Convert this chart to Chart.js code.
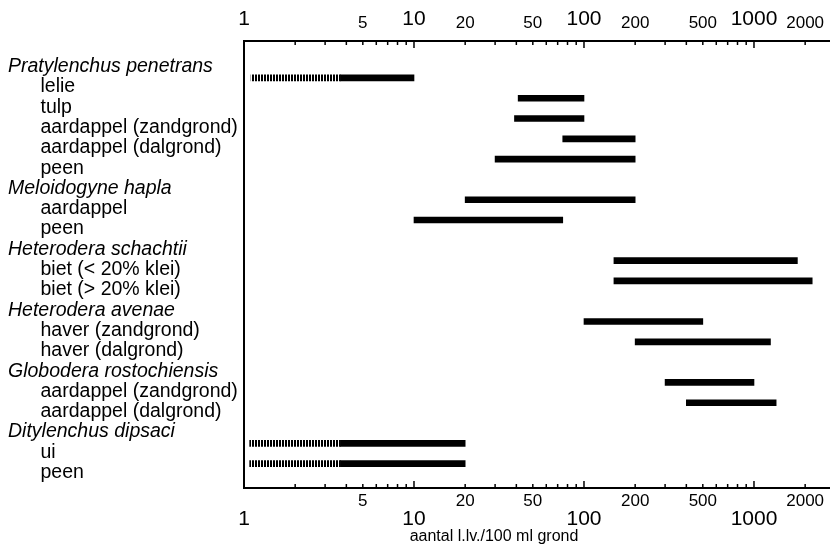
<!DOCTYPE html>
<html>
<head>
<meta charset="utf-8">
<script src="https://cdn.jsdelivr.net/npm/chart.js@4/dist/chart.umd.min.js"></script>
<style>
  body { margin: 0; background: #fff; }
  canvas { display: block; }
</style>
</head>
<body>
<canvas id="chart" width="830" height="545"></canvas>
<script>
// rows of the chart, top to bottom
let rows = [
  "Pratylenchus penetrans", "lelie", "tulp", "aardappel (zandgrond)", "aardappel (dalgrond)", "peen",
  "Meloidogyne hapla", "aardappel", "peen",
  "Heterodera schachtii", "biet (< 20% klei)", "biet (> 20% klei)",
  "Heterodera avenae", "haver (zandgrond)", "haver (dalgrond)",
  "Globodera rostochiensis", "aardappel (zandgrond)", "aardappel (dalgrond)",
  "Ditylenchus dipsaci", "ui", "peen"
];
let species = ["Pratylenchus penetrans", "Meloidogyne hapla", "Heterodera schachtii",
  "Heterodera avenae", "Globodera rostochiensis", "Ditylenchus dipsaci"];

// solid part of each range (aantal per 100 ml grond)
let lowValues  = [null, 3.7, 41, 39, 75, 30, null, 20, 10, null, 150, 150, null, 100, 200, null, 300, 400, null, 3.7, 3.7];
let highValues = [null, 10, 100, 100, 200, 200, null, 200, 75, null, 1800, 2200, null, 500, 1250, null, 1000, 1350, null, 20, 20];
// uncertain (hatched) part
let hatchLow  = [null, 1.1, null, null, null, null, null, null, null, null, null, null, null, null, null, null, null, null, null, 1.08, 1.08];
let hatchHigh = [null, 3.7, null, null, null, null, null, null, null, null, null, null, null, null, null, null, null, null, null, 3.7, 3.7];

let tickValues = [1, 2, 3, 4, 5, 6, 7, 8, 9, 10, 20, 30, 40, 50, 60, 70, 80, 90,
  100, 200, 300, 400, 500, 600, 700, 800, 900, 1000, 2000];
let majorTicks = [1, 10, 100, 1000];
let minorLabels = [5, 20, 50, 200, 500, 2000];
let xTitle = "aantal l.lv./100 ml grond";

const FONT = '"Liberation Sans", Arial, Helvetica, sans-serif';

function makeRanges(lo, hi) {
  let out = [];
  for (let i = 0; i < rows.length; i++) {
    if (lo[i] != null) out.push({ x: [lo[i], hi[i]], y: i });
  }
  return out;
}

// vertical hatch for the uncertain part
let pc = document.createElement("canvas");
pc.width = 3;
pc.height = 4;
let pctx = pc.getContext("2d");
pctx.fillStyle = "#000";
pctx.fillRect(0, 0, 2, 4);
let hatch = document.querySelector("#chart").getContext("2d").createPattern(pc, "repeat");

const inwardTicks = {
  id: "inwardTicks",
  afterDraw(chart) {
    let ctx = chart.ctx;
    let area = chart.chartArea;
    ctx.save();
    ctx.strokeStyle = "#000";
    ctx.lineWidth = 1.5;
    ["x", "x2"].forEach((id) => {
      let scale = chart.scales[id];
      let y0 = id == "x" ? area.bottom : area.top;
      let dir = id == "x" ? -1 : 1;
      tickValues.forEach((v) => {
        let px = scale.getPixelForValue(v);
        let len = majorTicks.includes(v) ? 7 : 4;
        ctx.beginPath();
        ctx.moveTo(px, y0);
        ctx.lineTo(px, y0 + dir * len);
        ctx.stroke();
      });
    });
    ctx.fillStyle = "#000";
    ctx.font = "16px " + FONT;
    ctx.textAlign = "center";
    ctx.textBaseline = "middle";
    ctx.fillText(xTitle, area.left + 250, 537);
    ctx.restore();
  },
};

function xAxis(position, minorLH, majorLH, height) {
  return {
    type: "logarithmic",
    position: position,
    min: 1,
    max: 2800,
    grid: { display: false, drawTicks: false },
    border: { display: true, color: "#000", width: 2 },
    afterBuildTicks: (scale) => {
      scale.ticks = tickValues.map((v) => ({ value: v }));
    },
    afterFit: (scale) => {
      scale.height = height;
    },
    ticks: {
      autoSkip: false,
      maxRotation: 0,
      padding: 0,
      color: "#000",
      callback: (v) => (majorTicks.includes(v) || minorLabels.includes(v) ? String(v) : ""),
      font: (ctx) => {
        let v = ctx.tick ? ctx.tick.value : 0;
        if (majorTicks.includes(v)) return { family: FONT, size: 21, lineHeight: majorLH + "px" };
        return { family: FONT, size: 17, lineHeight: minorLH + "px" };
      },
    },
  };
}

new Chart(document.querySelector("#chart"), {
  type: "bar",
  data: {
    datasets: [
      {
        data: makeRanges(hatchLow, hatchHigh),
        backgroundColor: hatch,
        barThickness: 6,
        grouped: false,
        xAxisID: "x",
      },
      {
        data: makeRanges(lowValues, highValues),
        backgroundColor: "#000",
        barThickness: 6,
        grouped: false,
        xAxisID: "x",
      },
    ],
  },
  options: {
    indexAxis: "y",
    responsive: false,
    animation: false,
    layout: { padding: { left: 8, right: 0, top: 0, bottom: 0 } },
    plugins: { legend: { display: false }, tooltip: { enabled: false } },
    scales: {
      x: xAxis("bottom", 26, 62, 57),
      x2: xAxis("top", 36, 44, 41),
      y: {
        type: "linear",
        position: "left",
        reverse: true,
        offset: false,
        min: -0.82,
        max: 21.2,
        grid: { display: false, drawTicks: false, offset: false },
        border: { display: true, color: "#000", width: 2 },
        afterBuildTicks: (scale) => {
          scale.ticks = rows.map((r, i) => ({ value: i }));
        },
        afterFit: (scale) => {
          scale.width = 236;
        },
        ticks: {
          autoSkip: false,
          padding: 0,
          crossAlign: "far",
          labelOffset: 9,
          color: "#000",
          callback: (v) => {
            let name = rows[v];
            if (name == undefined) return "";
            return species.includes(name) ? name : "      " + name;
          },
          font: (ctx) => {
            let name = ctx.tick ? rows[ctx.tick.value] : "";
            if (species.includes(name)) return { family: FONT, size: 19.5, style: "italic", lineHeight: 1 };
            return { family: FONT, size: 19.5, lineHeight: 1 };
          },
        },
      },
    },
  },
  plugins: [inwardTicks],
});
</script>
</body>
</html>
